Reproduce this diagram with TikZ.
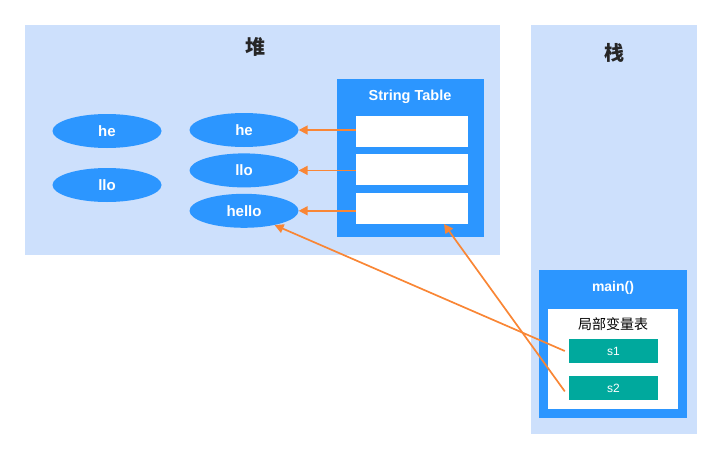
\documentclass[tikz,border=0pt]{standalone}
\usepackage{fontspec}
\setmainfont{Liberation Sans}
\newfontfamily\cjk{Noto Sans CJK SC}
\usetikzlibrary{positioning,shapes.geometric,arrows.meta}

\definecolor{areaBg}{HTML}{CDE0FC}
\definecolor{boxBlue}{HTML}{2C96FF}
\definecolor{slotTeal}{HTML}{00A99D}
\definecolor{refOrange}{HTML}{F98635}

\begin{document}
\begin{tikzpicture}[
  x=1pt, y=-1pt,
  font=\fontsize{14}{16}\selectfont,
  area/.style={fill=areaBg, draw=none},
  frame/.style={fill=boxBlue, draw=none},
  cell/.style={fill=white, draw=none, minimum width=112pt, minimum height=31pt, inner sep=0pt},
  obj/.style={ellipse, fill=boxBlue, text=white, font=\fontsize{15}{17}\selectfont\bfseries, minimum width=109pt, minimum height=34pt, inner sep=0pt},
  slot/.style={fill=slotTeal, text=white, font=\fontsize{12}{14}\selectfont, minimum width=89pt, minimum height=24pt, inner sep=0pt},
  ref/.style={-{Triangle[length=9pt,width=9pt]}, line width=1.7pt, refOrange}
]
\useasboundingbox (0,0) rectangle (715,452);

% heap and stack areas
\node[area, minimum width=475pt, minimum height=230pt, anchor=north west] (heap) at (25,25) {};
\node[area, minimum width=166pt, minimum height=409pt, anchor=north west] (stack) at (531,25) {};
\node[font=\cjk\fontsize{20}{22}\selectfont\bfseries, text=black!85] (heapLbl) at (255,47) {堆};
\node[font=\cjk\fontsize{20}{22}\selectfont\bfseries, text=black!85] (stackLbl) at (614,53) {栈};

% string table
\node[frame, minimum width=147pt, minimum height=158pt, anchor=north west] (strTab) at (337,79) {};
\node[text=white, font=\fontsize{14.5}{16}\selectfont\bfseries] (strTabLbl) at (410,97) {String Table};
\node[cell] (cellA) at (412,131.5) {};
\node[cell, below=7pt of cellA] (cellB) {};
\node[cell, below=7pt of cellB] (cellC) {};

% objects
\node[obj] (he1) at (107,131) {he};
\node[obj] (llo1) at (107,185) {llo};
\node[obj] (he2) at (244,130) {he};
\node[obj, below=6pt of he2] (llo2) {llo};
\node[obj, below=6pt of llo2] (hello) {hello};

\draw[ref] (cellA.west |- he2.east) -- (he2.east);
\draw[ref] (cellB.west |- llo2.east) -- (llo2.east);
\draw[ref] (cellC.west |- hello.east) -- (hello.east);

% main frame
\node[frame, minimum width=148pt, minimum height=148pt, anchor=north west] (mainFr) at (539,270) {};
\node[text=white, font=\fontsize{14}{16}\selectfont\bfseries] (mainLbl) at (613,288) {main()};
\node[fill=white, minimum width=130pt, minimum height=100pt, anchor=north west, inner sep=0pt] (locals) at (548,309) {};
\node[font=\cjk\fontsize{14}{16}\selectfont] (localsLbl) at (613,324) {局部变量表};
\node[slot] (s1) at (613.5,351) {s1};
\node[slot, below=13pt of s1] (s2) {s2};

\coordinate (s1In) at ([xshift=-4pt]s1.west);
\coordinate (s2In) at ([xshift=-4pt,yshift=-3pt]s2.west);
\draw[ref] (s1In) -- (hello.-25);
\draw[ref] (s2In) -- ([xshift=32pt]cellC.south);
\end{tikzpicture}
\end{document}
